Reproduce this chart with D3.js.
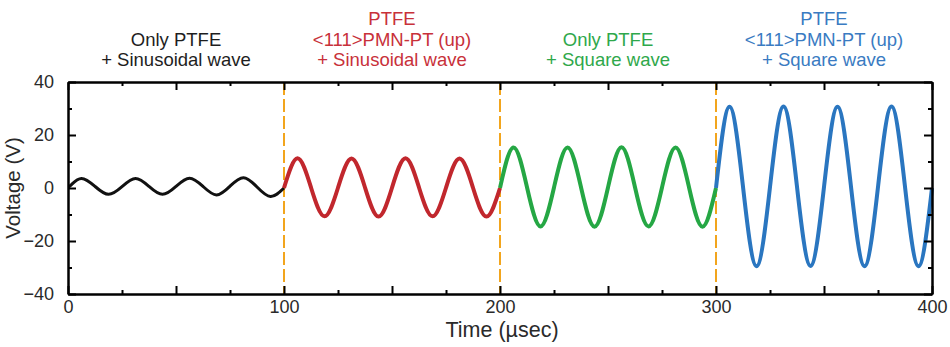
<!DOCTYPE html>
<html>
<head>
<meta charset="utf-8">
<script src="https://cdn.jsdelivr.net/npm/d3@7"></script>
<style>
  html, body { margin: 0; padding: 0; background: #fff; }
  svg { display: block; font-family: "Liberation Sans", Arial, Helvetica, sans-serif; }
</style>
</head>
<body>
<svg id="chart" width="950" height="347"></svg>
<script>
// Time axis samples (µs) at quarter-period steps for each 100 µs segment
const tOnlySine   = [0, 1.5, 6.25, 12.5, 18.75, 25, 31.25, 37.5, 43.75, 50, 56.25, 62.5, 68.75, 75, 81.25, 87.5, 93.75, 100];
const vOnlySine   = [0.4, 1.2, 3.6, 0.6, -2.4, 0.5, 3.6, 0.6, -2.4, 0.6, 3.7, 0.6, -2.6, 0.7, 3.9, 0.4, -3.2, 0];

const tPmnSine    = [100, 106.25, 112.5, 118.75, 125, 131.25, 137.5, 143.75, 150, 156.25, 162.5, 168.75, 175, 181.25, 187.5, 193.75, 200];
const vPmnSine    = [0, 11.2, 0.2, -10.7, 0.1, 11.1, 0.2, -10.8, 0.1, 11.2, 0.2, -10.7, 0.1, 11.1, 0.1, -10.8, 0];

const tOnlySquare = [200, 206.25, 212.5, 218.75, 225, 231.25, 237.5, 243.75, 250, 256.25, 262.5, 268.75, 275, 281.25, 287.5, 293.75, 300];
const vOnlySquare = [0, 15.3, 0.3, -14.5, 0.2, 15.3, 0.3, -14.6, 0.2, 15.4, 0.3, -14.5, 0.2, 15.3, 0.3, -14.6, 0];

const tPmnSquare  = [300, 306.25, 312.5, 318.75, 325, 331.25, 337.5, 343.75, 350, 356.25, 362.5, 368.75, 375, 381.25, 387.5, 393.75, 400];
const vPmnSquare  = [0, 30.7, 0.5, -29.5, 0.4, 30.8, 0.5, -29.4, 0.4, 30.7, 0.5, -29.5, 0.4, 30.8, 0.5, -29.5, 0];

const seriesColors = ["#111111", "#c1272d", "#25a744", "#2a76c0"];
const headerColors = ["#1e1e1e", "#c8313a", "#2fa84b", "#3a7bc2"];

// Header lines over each segment (centred on the segment midpoint)
const headerCenters = [50, 150, 250, 350];
const headerLines = [
  ["Only PTFE", "+ Sinusoidal wave"],
  ["PTFE", "<111>PMN-PT (up)", "+ Sinusoidal wave"],
  ["Only PTFE", "+ Square wave"],
  ["PTFE", "<111>PMN-PT (up)", "+ Square wave"]
];

const boundaries = [100, 200, 300];

const xDomain = [0, 400];
const yDomain = [-40, 40];
const xMajorTicks = [0, 50, 100, 150, 200, 250, 300, 350, 400];
const xMinorTicks = [25, 75, 125, 175, 225, 275, 325, 375];
const xLabelled   = [0, 100, 200, 300, 400];
const yMajorTicks = [-40, -20, 0, 20, 40];
const yMinorTicks = [-30, -10, 10, 30];

const xTitle = "Time (µsec)";
const yTitle = "Voltage (V)";

// ---- layout ----
const svg = d3.select("#chart");
const plotLeft = 68, plotRight = 932, plotTop = 82, plotBottom = 294;

const x = d3.scaleLinear().domain(xDomain).range([plotLeft, plotRight]);
const y = d3.scaleLinear().domain(yDomain).range([plotBottom, plotTop]);

// segment boundary markers
svg.append("g")
  .selectAll("line")
  .data(boundaries)
  .join("line")
  .attr("x1", d => x(d)).attr("x2", d => x(d))
  .attr("y1", plotTop).attr("y2", plotBottom)
  .attr("stroke", "#f2a51d")
  .attr("stroke-width", 2)
  .attr("stroke-dasharray", "13,4");

// waveforms
const segments = [
  [tOnlySine, vOnlySine],
  [tPmnSine, vPmnSine],
  [tOnlySquare, vOnlySquare],
  [tPmnSquare, vPmnSquare]
];
const line = d3.line()
  .x(d => x(d[0]))
  .y(d => y(d[1]))
  .curve(d3.curveNatural);

svg.append("g")
  .selectAll("path")
  .data(segments)
  .join("path")
  .attr("d", s => line(d3.zip(s[0], s[1])))
  .attr("fill", "none")
  .attr("stroke", (s, i) => seriesColors[i])
  .attr("stroke-width", (s, i) => i === 0 ? 3 : 4)
  .attr("stroke-linejoin", "round");

// ---- axes (ticks point inward on all four sides) ----
function styleAxis(g) {
  g.attr("font-family", null);
  g.select(".domain").attr("stroke", "#000").attr("stroke-width", 2);
  g.selectAll(".tick line").attr("stroke", "#000").attr("stroke-width", 2);
  g.selectAll(".tick text").attr("fill", "#2a2a2a").attr("font-size", 18);
}

svg.append("g")
  .attr("transform", `translate(0,${plotBottom})`)
  .call(d3.axisBottom(x).tickValues(xMinorTicks).tickSize(-4).tickSizeOuter(0).tickFormat(""))
  .call(styleAxis);
svg.append("g")
  .attr("transform", `translate(0,${plotBottom})`)
  .call(d3.axisBottom(x).tickValues(xMajorTicks).tickSize(-8).tickSizeOuter(0).tickPadding(6)
    .tickFormat(d => xLabelled.includes(d) ? d : ""))
  .call(styleAxis);

svg.append("g")
  .attr("transform", `translate(0,${plotTop})`)
  .call(d3.axisTop(x).tickValues(xMinorTicks).tickSize(-4).tickSizeOuter(0).tickFormat(""))
  .call(styleAxis);
svg.append("g")
  .attr("transform", `translate(0,${plotTop})`)
  .call(d3.axisTop(x).tickValues(xMajorTicks).tickSize(-8).tickSizeOuter(0).tickFormat(""))
  .call(styleAxis);

svg.append("g")
  .attr("transform", `translate(${plotLeft},0)`)
  .call(d3.axisLeft(y).tickValues(yMinorTicks).tickSize(-4).tickSizeOuter(0).tickFormat(""))
  .call(styleAxis);
svg.append("g")
  .attr("transform", `translate(${plotLeft},0)`)
  .call(d3.axisLeft(y).tickValues(yMajorTicks).tickSize(-8).tickSizeOuter(0).tickPadding(14))
  .call(styleAxis);

svg.append("g")
  .attr("transform", `translate(${plotRight},0)`)
  .call(d3.axisRight(y).tickValues(yMinorTicks).tickSize(-4).tickSizeOuter(0).tickFormat(""))
  .call(styleAxis);
svg.append("g")
  .attr("transform", `translate(${plotRight},0)`)
  .call(d3.axisRight(y).tickValues(yMajorTicks).tickSize(-8).tickSizeOuter(0).tickFormat(""))
  .call(styleAxis);

// axis titles
svg.append("text")
  .attr("x", (plotLeft + plotRight) / 2 + 2)
  .attr("y", 337)
  .attr("text-anchor", "middle")
  .attr("font-size", 21.5)
  .attr("fill", "#2a2a2a")
  .text(xTitle);

svg.append("text")
  .attr("transform", `translate(20,${(plotTop + plotBottom) / 2}) rotate(-90)`)
  .attr("text-anchor", "middle")
  .attr("font-size", 20.5)
  .attr("fill", "#2a2a2a")
  .text(yTitle);

// segment headers
const lineBaselines = [25, 45.5, 66];
headerLines.forEach((lines, i) => {
  const offset = lineBaselines.length - lines.length;
  svg.append("text")
    .attr("text-anchor", "middle")
    .attr("font-size", 18.5)
    .attr("fill", headerColors[i])
    .selectAll("tspan")
    .data(lines)
    .join("tspan")
    .attr("x", x(headerCenters[i]))
    .attr("y", (d, j) => lineBaselines[j + offset])
    .text(d => d);
});
</script>
</body>
</html>
